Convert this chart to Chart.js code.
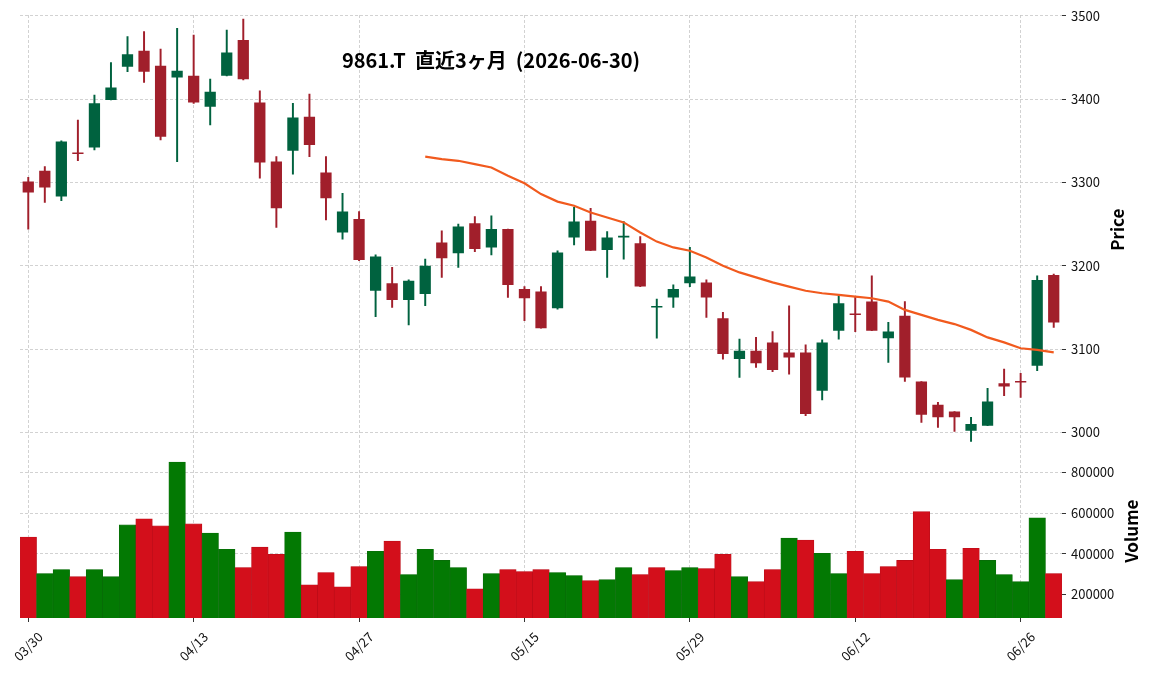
<!DOCTYPE html>
<html>
<head>
<meta charset="utf-8">
<script src="https://cdn.jsdelivr.net/npm/chart.js@4.4.1/dist/chart.umd.min.js"></script>
<style>
  body { margin: 0; background: #fff; }
  canvas { display: block; }
</style>
</head>
<body>
<canvas id="stockChart" width="1152" height="674"></canvas>
<script>
// Trading days (03/30 - 06/30)
const dates = [
  "03/30", "03/31", "04/01", "04/02", "04/03",
  "04/06", "04/07", "04/08", "04/09", "04/10",
  "04/13", "04/14", "04/15", "04/16", "04/17",
  "04/20", "04/21", "04/22", "04/23", "04/24",
  "04/27", "04/28", "04/30", "05/01", "05/07", "05/08",
  "05/11", "05/12", "05/13", "05/14", "05/15",
  "05/18", "05/19", "05/20", "05/21", "05/22",
  "05/25", "05/26", "05/27", "05/28", "05/29",
  "06/01", "06/02", "06/03", "06/04", "06/05",
  "06/08", "06/09", "06/10", "06/11", "06/12",
  "06/15", "06/16", "06/17", "06/18", "06/19",
  "06/22", "06/23", "06/24", "06/25", "06/26",
  "06/29", "06/30"
];

// OHLC values
const opens = [
  3301, 3314, 3283, 3336, 3342, 3399, 3439, 3458, 3440, 3426,
  3428, 3391, 3428, 3471, 3396, 3325, 3338, 3379, 3312, 3240,
  3256, 3170, 3179, 3159, 3166, 3228, 3215, 3251, 3222, 3244,
  3172, 3169, 3149, 3234, 3254, 3219, 3234, 3227, 3150, 3162,
  3179, 3180, 3137, 3088, 3098, 3108, 3096, 3096, 3050, 3122,
  3142, 3157, 3113, 3140, 3061, 3033, 3025, 3002, 3008, 3059,
  3061, 3080, 3189
];
const highs = [
  3306, 3319, 3350, 3375, 3405, 3444, 3475, 3481, 3460, 3485,
  3477, 3424, 3483, 3496, 3410, 3331, 3395, 3406, 3331, 3287,
  3265, 3213, 3198, 3183, 3208, 3242, 3250, 3259, 3260, 3244,
  3175, 3175, 3218, 3270, 3269, 3241, 3253, 3235, 3160, 3177,
  3222, 3183, 3144, 3112, 3114, 3121, 3152, 3105, 3111, 3164,
  3163, 3188, 3132, 3157, 3061, 3036, 3025, 3018, 3053, 3076,
  3071, 3188, 3190
];
const lows = [
  3244, 3276, 3278, 3326, 3339, 3399, 3433, 3420, 3351, 3325,
  3395, 3369, 3428, 3423, 3305, 3246, 3310, 3331, 3255, 3232,
  3206, 3139, 3150, 3129, 3152, 3186, 3198, 3217, 3213, 3162,
  3134, 3125, 3148, 3225, 3218, 3186, 3208, 3175, 3113, 3150,
  3175, 3138, 3088, 3066, 3078, 3073, 3070, 3020, 3039, 3112,
  3121, 3122, 3084, 3061, 3012, 3006, 3001, 2989, 3008, 3044,
  3042, 3074, 3126
];
const closes = [
  3288, 3294, 3349, 3334, 3395, 3414, 3454, 3433, 3355, 3434,
  3396, 3409, 3456, 3424, 3324, 3269, 3378, 3345, 3281, 3265,
  3207, 3211, 3159, 3182, 3200, 3209, 3247, 3220, 3244, 3177,
  3161, 3125, 3216, 3253, 3218, 3234, 3236, 3175, 3151, 3172,
  3187, 3162, 3094, 3098, 3083, 3075, 3090, 3022, 3108, 3155,
  3141, 3122, 3121, 3066, 3021, 3018, 3018, 3010, 3037, 3055,
  3060, 3183, 3132
];
const volumes = [
  482000, 302000, 322000, 287000, 322000, 287000, 542000, 572000, 537000, 852000,
  547000, 502000, 422000, 332000, 432000, 397000, 507000, 247000, 307000, 237000,
  337000, 412000, 462000, 297000, 422000, 367000, 332000, 227000, 302000, 322000,
  312000, 322000, 307000, 292000, 267000, 272000, 332000, 297000, 332000, 317000,
  332000, 327000, 397000, 287000, 262000, 322000, 477000, 467000, 402000, 302000,
  412000, 302000, 337000, 367000, 607000, 422000, 272000, 427000, 367000, 297000,
  262000, 577000, 302000
];
// 25 day moving average, starts at the 25th trading day
const maStart = 24;
const ma25 = [
  3331, 3328, 3326, 3322, 3318, 3308, 3299, 3286, 3277, 3272,
  3264, 3258, 3252, 3240, 3229, 3222, 3218, 3210, 3200, 3192,
  3186, 3180, 3175, 3170, 3167, 3165, 3163, 3161, 3157, 3147,
  3141, 3135, 3130, 3123, 3114, 3108, 3101, 3099, 3096
];

// Axis ticks
const dateTickIdx = [0, 10, 20, 30, 40, 50, 60];
const priceTicks = [3000, 3100, 3200, 3300, 3400, 3500];
const volumeTicks = [200000, 400000, 600000, 800000];

const titleText = "9861.T  直近3ヶ月  (2026-06-30)";

// Colors
const upColor = "#00623f";
const downColor = "#a11f2b";
const volUp = "#037903";
const volDown = "#d30f1b";

// Build data for the chart
const bodies = opens.map((o, i) => [o, closes[i]]);
const wicks = lows.map((l, i) => [l, highs[i]]);
const candleColors = opens.map((o, i) => (closes[i] >= o ? upColor : downColor));
// volume color follows close vs previous close
const volColors = closes.map((c, i) => {
  const prev = i === 0 ? opens[0] : closes[i - 1];
  return c >= prev ? volUp : volDown;
});
const volBorders = volColors.map((c) => (c === volUp ? "#0a6a0a" : "#b80d18"));
const maData = dates.map((d, i) => (i >= maStart ? ma25[i - maStart] : null));

Chart.defaults.font.family = "'Noto Sans CJK JP', 'Noto Sans', sans-serif";
Chart.defaults.font.size = 13;
Chart.defaults.color = "#111";

// Draws title and axis titles
const textPlugin = {
  id: "texts",
  afterDraw(chart) {
    const ctx = chart.ctx;
    const py = chart.scales.y;
    const vy = chart.scales.yv;
    ctx.save();
    ctx.fillStyle = "#000";
    ctx.textAlign = "center";
    ctx.textBaseline = "middle";
    ctx.font = "bold 20px 'Noto Sans CJK JP'";
    ctx.fillText(titleText, 491, 60);

    ctx.font = "bold 17px 'Noto Sans CJK JP'";
    ctx.translate(1118, (py.top + py.bottom) / 2);
    ctx.rotate(-Math.PI / 2);
    ctx.fillText("Price", 0, 0);
    ctx.restore();

    ctx.save();
    ctx.fillStyle = "#000";
    ctx.textAlign = "center";
    ctx.textBaseline = "middle";
    ctx.font = "bold 17px 'Noto Sans CJK JP'";
    ctx.translate(1132, (vy.top + vy.bottom) / 2);
    ctx.rotate(-Math.PI / 2);
    ctx.fillText("Volume", 0, 0);
    ctx.restore();
  },
};

const gridColor = "#c6c6c6";

new Chart("stockChart", {
  type: "bar",
  data: {
    labels: dates,
    datasets: [
      {
        type: "line",
        data: maData,
        yAxisID: "y",
        borderColor: "#f15a1e",
        borderWidth: 2.2,
        pointRadius: 0,
        tension: 0,
      },
      {
        data: bodies,
        yAxisID: "y",
        backgroundColor: candleColors,
        grouped: false,
        barPercentage: 0.68,
        categoryPercentage: 1,
        minBarLength: 1.5,
      },
      {
        data: wicks,
        yAxisID: "y",
        backgroundColor: candleColors,
        grouped: false,
        barThickness: 1.3,
      },
      {
        data: volumes,
        yAxisID: "yv",
        backgroundColor: volColors,
        borderColor: volBorders,
        borderWidth: 0.6,
        grouped: false,
        barPercentage: 1,
        categoryPercentage: 1,
      },
    ],
  },
  options: {
    responsive: false,
    animation: false,
    layout: { padding: { left: 20, top: 15, right: 0, bottom: 0 } },
    plugins: {
      legend: { display: false },
      tooltip: { enabled: false },
    },
    scales: {
      x: {
        offset: true,
        afterBuildTicks: (s) => {
          s.ticks = dateTickIdx.map((v) => ({ value: v }));
        },
        afterFit: (s) => {
          // fixed height, no extra side padding for rotated labels
          s.height = 56;
          s.paddingLeft = 0;
          s.paddingRight = 0;
        },
        grid: {
          offset: false,
          color: gridColor,
          lineWidth: 0.8,
          tickColor: "#000",
          tickLength: 4,
          tickBorderDash: [],
        },
        border: { display: false, dash: [3, 2] },
        ticks: {
          autoSkip: false,
          minRotation: 45,
          maxRotation: 45,
          labelOffset: 12,
          padding: 7,
        },
      },
      y: {
        position: "right",
        stack: "panels",
        stackWeight: 429,
        min: 2985.6,
        max: 3501,
        afterBuildTicks: (s) => {
          s.ticks = priceTicks.map((v) => ({ value: v }));
        },
        afterFit: (s) => {
          s.width = 90;
        },
        grid: {
          color: gridColor,
          lineWidth: 0.8,
          tickColor: "#000",
          tickLength: 4,
          tickBorderDash: [],
        },
        border: { display: false, dash: [3, 2] },
        ticks: {
          padding: 5,
          callback: (v) => String(v),
        },
      },
      yv: {
        position: "right",
        stack: "panels",
        stackWeight: 173.5,
        min: 83000,
        max: 939000,
        afterBuildTicks: (s) => {
          s.ticks = volumeTicks.map((v) => ({ value: v }));
        },
        afterFit: (s) => {
          s.width = 90;
        },
        grid: {
          color: gridColor,
          lineWidth: 0.8,
          tickColor: "#000",
          tickLength: 4,
          tickBorderDash: [],
        },
        border: { display: false, dash: [3, 2] },
        ticks: {
          padding: 5,
          callback: (v) => String(v),
        },
      },
    },
  },
  plugins: [textPlugin],
});
</script>
</body>
</html>
